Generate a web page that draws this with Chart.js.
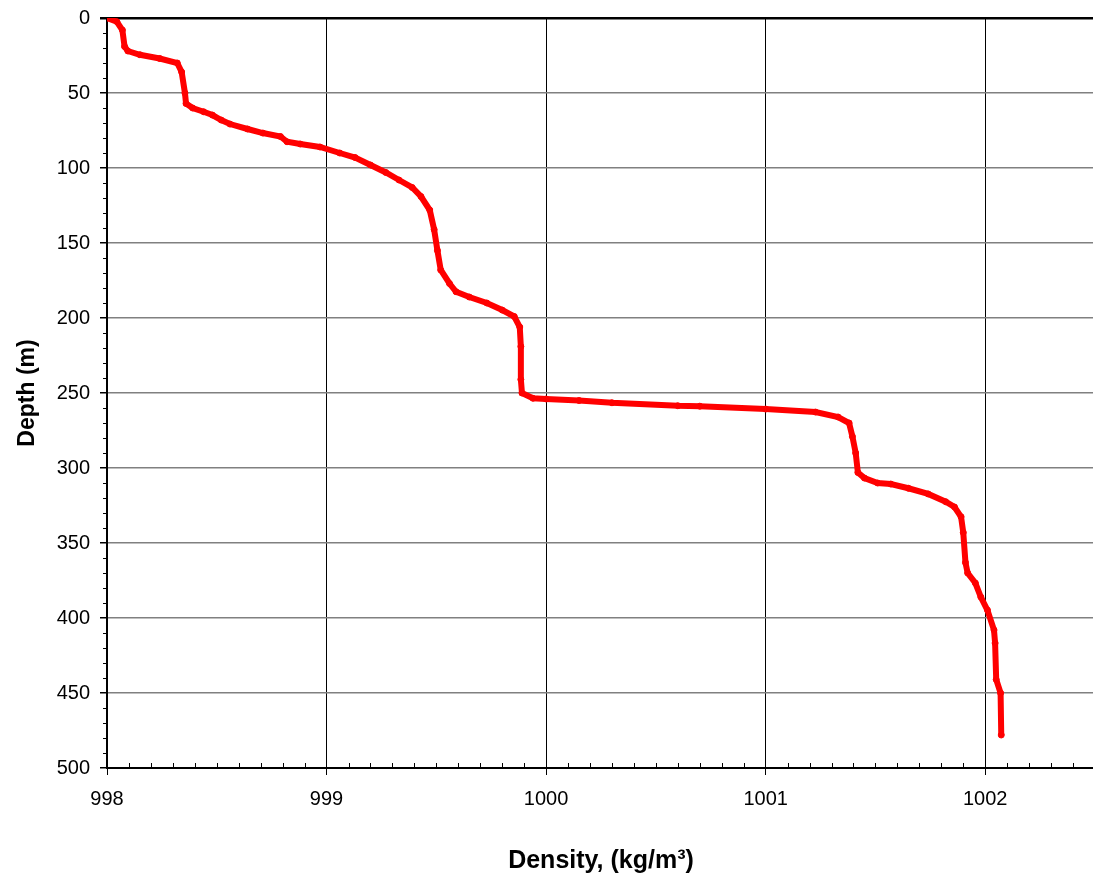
<!DOCTYPE html>
<html>
<head>
<meta charset="utf-8">
<script src="https://cdn.jsdelivr.net/npm/chart.js@4"></script>
<style>
   html, body { margin: 0; padding: 0; background: #fff; overflow: hidden; }
   #wrap { width: 1100px; height: 877px; }
</style>
</head>
<body>
<div id="wrap"><canvas id="chart"></canvas></div>
<script>
// density profile
const density = [
   998.0, 998.045, 998.07, 998.08, 998.095, 998.15, 998.24, 998.32, 998.34, 998.355,
   998.36, 998.39, 998.44, 998.48, 998.52, 998.56, 998.64, 998.71, 998.79, 998.82,
   998.88, 998.97, 999.06, 999.13, 999.2, 999.27, 999.33, 999.39, 999.43, 999.47,
   999.49, 999.505, 999.52, 999.56, 999.59, 999.65, 999.73, 999.8, 999.855, 999.88,
   999.885, 999.885, 999.89, 999.94, 1000.0, 1000.15, 1000.3, 1000.6, 1000.7, 1001.0,
   1001.227, 1001.33, 1001.38, 1001.395, 1001.41, 1001.42, 1001.45, 1001.51, 1001.57, 1001.65,
   1001.74, 1001.82, 1001.86, 1001.89, 1001.9, 1001.91, 1001.92, 1001.955, 1001.98, 1002.01,
   1002.04, 1002.045, 1002.05, 1002.07, 1002.073,
];
const depth = [
   0, 2.5, 8, 19, 22, 24.5, 27, 30, 36, 50,
   57, 60, 62.5, 64.7, 68, 70.7, 74, 76.7, 79, 82.5,
   84, 86, 90, 93, 98, 103, 108, 113, 119, 128,
   141, 155, 168, 177, 182.5, 186, 190, 194.7, 199, 206,
   219, 241, 250, 253.5, 254, 255, 256.5, 258.5, 258.8, 260.7,
   262.7, 266, 270, 279, 290, 303, 306.7, 310, 310.7, 313.5,
   317.3, 322.5, 326, 332.5, 343, 363, 370, 376.7, 386, 394.7,
   408, 416.7, 441, 450, 478,
];

const xMin = 998, xMax = 1002.5;
const yMin = 0, yMax = 500;
const FONT = "'Liberation Sans', Arial, sans-serif";

const points = density.map((d, i) => ({ x: d, y: depth[i] }));

// small minor ticks like the original spreadsheet chart
const minorTicks = {
   id: "minorTicks",
   afterDraw(chart) {
      const { ctx, chartArea, scales } = chart;
      ctx.save();
      ctx.strokeStyle = "#000";
      ctx.lineWidth = 1;
      ctx.beginPath();
      for (let i = 1; i < 45; i++) {
         if (i % 10 === 0) continue;
         const px = Math.round(scales.x.getPixelForValue(xMin + i / 10)) + 0.5;
         ctx.moveTo(px, chartArea.bottom);
         ctx.lineTo(px, chartArea.bottom - 5);
      }
      for (let v = 10; v < yMax; v += 10) {
         if (v % 50 === 0) continue;
         const py = Math.round(scales.y.getPixelForValue(v)) + 0.5;
         ctx.moveTo(chartArea.left, py);
         ctx.lineTo(chartArea.left - 4, py);
      }
      ctx.stroke();
      ctx.restore();
   },
};

new Chart(document.getElementById("chart"), {
   type: "scatter",
   data: {
      datasets: [
         {
            data: points,
            showLine: true,
            borderColor: "#ff0000",
            backgroundColor: "#ff0000",
            borderWidth: 6,
            pointRadius: 3,
            pointBorderWidth: 1,
            tension: 0,
         },
      ],
   },
   options: {
      responsive: true,
      maintainAspectRatio: false,
      animation: false,
      layout: { padding: { top: 18, right: 3, left: 0, bottom: 0 } },
      plugins: {
         legend: { display: false },
         tooltip: { enabled: false },
      },
      scales: {
         x: {
            type: "linear",
            min: xMin,
            max: xMax,
            afterFit: (scale) => { scale.height = 109; },
            ticks: {
               stepSize: 1,
               includeBounds: false,
               padding: 12,
               color: "#000",
               font: { family: FONT, size: 20 },
               callback: (v) => (Number.isInteger(v) ? v : ""),
            },
            grid: {
               color: (c) => (c.tick && c.tick.value === xMin ? "rgba(0,0,0,0)" : "#000"),
               lineWidth: 1,
               tickColor: "#000",
               tickLength: 7,
            },
            border: { color: "#000", width: 2 },
            title: {
               display: true,
               text: "Density, (kg/m³)",
               color: "#000",
               font: { family: FONT, size: 25, weight: "bold" },
               padding: { top: 0, bottom: 1 },
            },
         },
         y: {
            type: "linear",
            reverse: true,
            min: yMin,
            max: yMax,
            afterFit: (scale) => {
               scale.width = 107;
               scale.paddingTop = 0;
               scale.paddingBottom = 0;
            },
            ticks: {
               stepSize: 50,
               padding: 10,
               color: "#000",
               font: { family: FONT, size: 20 },
            },
            grid: {
               color: (c) => (c.tick && c.tick.value === 0 ? "#000" : "#808080"),
               lineWidth: (c) => (c.tick && c.tick.value === 0 ? 2.5 : 1.5),
               tickColor: "#000",
               tickLength: 7,
            },
            border: { color: "#000", width: 2 },
            title: {
               display: true,
               text: "Depth (m)",
               color: "#000",
               font: { family: FONT, size: 23, weight: "bold" },
               padding: { top: 14, bottom: 0 },
            },
         },
      },
   },
   plugins: [minorTicks],
});
</script>
</body>
</html>
